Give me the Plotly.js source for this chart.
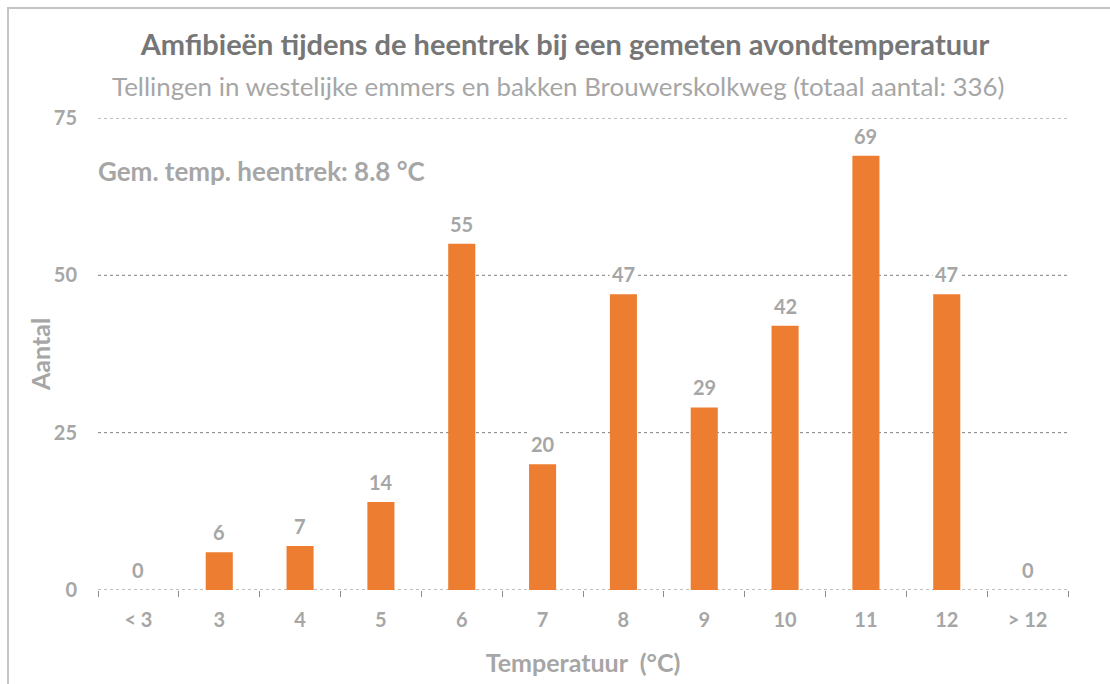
<!DOCTYPE html>
<html>
<head>
<meta charset="utf-8">
<script src="https://cdn.plot.ly/plotly-3.0.1.min.js"></script>
<style>
html,body{margin:0;padding:0;background:#fff;}
#chart{position:absolute;left:0;top:0;width:1110px;height:684px;}
#frame{position:absolute;left:7px;top:7px;width:1110px;height:684px;border-top:2px solid #c4c4c4;border-left:2px solid #c4c4c4;pointer-events:none;}
</style>
</head>
<body>
<div id="chart"></div>
<div id="frame"></div>
<script>
var categories = ["< 3", "3", "4", "5", "6", "7", "8", "9", "10", "11", "12", "> 12"];
var counts = [0, 6, 7, 14, 55, 20, 47, 29, 42, 69, 47, 0];
var yTicks = [0, 25, 50, 75];

var grey = "#a6a6a6";
var font = "Lato, 'Open Sans', sans-serif";

var trace = {
  type: "bar",
  x: categories,
  y: counts,
  marker: {color: "#ed7d31"},
  hoverinfo: "x+y"
};

var annotations = categories.map(function (c, i) {
  return {
    x: i, y: counts[i], xref: "x", yref: "y",
    text: String(counts[i]),
    showarrow: false,
    yanchor: "bottom", yshift: 5,
    bgcolor: "#ffffff",
    borderpad: 2,
    font: {family: font, size: 20, color: grey, weight: "bold"}
  };
});

annotations.push({
  xref: "paper", yref: "paper", x: -0.002, y: 0.887,
  xanchor: "left", yanchor: "middle",
  text: "Gem. temp. heentrek: 8.8 °C",
  showarrow: false,
  font: {family: font, size: 26, color: grey, weight: "bold"}
});

annotations.push({
  xref: "paper", yref: "paper", x: 0.474, y: 1.068,
  xanchor: "center", yanchor: "middle",
  text: "Tellingen in westelijke emmers en bakken Brouwerskolkweg (totaal aantal: 336)",
  showarrow: false,
  font: {family: font, size: 25.9, color: grey}
});

annotations.push({
  xref: "paper", yref: "paper", x: -0.0598, y: 0.5,
  xanchor: "center", yanchor: "middle",
  textangle: -90,
  text: "Aantal",
  showarrow: false,
  font: {family: font, size: 25, color: grey, weight: "bold"}
});

var shapes = yTicks.map(function (v) {
  return {
    type: "line", xref: "paper", yref: "y",
    x0: 0, x1: 1, y0: v, y1: v,
    layer: "below",
    line: {color: "#7f7f7f", width: 1, dash: "dot"}
  };
});

var layout = {
  width: 1110, height: 684,
  margin: {l: 98, r: 42, t: 118, b: 94},
  paper_bgcolor: "#ffffff",
  plot_bgcolor: "rgba(0,0,0,0)",
  showlegend: false,
  bargap: 0.665,
  title: {
    text: "Amfibieën tijdens de heentrek bij een gemeten avondtemperatuur",
    xref: "container", x: 0.509, xanchor: "center", y: 0.935, yanchor: "middle",
    font: {family: font, size: 29, color: "#767676", weight: "bold"}
  },
  xaxis: {
    type: "category",
    tickson: "boundaries",
    ticks: "outside", ticklen: 6, tickcolor: "#8c8c8c", tickwidth: 1,
    showgrid: false, showline: false, zeroline: false,
    ticklabelstandoff: 16,
    tickfont: {family: font, size: 20, color: grey, weight: "bold"},
    title: {text: "Temperatuur  (°C)", standoff: 24,
      font: {family: font, size: 25, color: grey, weight: "bold"}}
  },
  yaxis: {
    range: [0, 75],
    tickvals: yTicks,
    ticktext: yTicks.map(String),
    showgrid: false,
    zeroline: false, showline: false,
    ticks: "", ticklabelstandoff: 20,
    tickfont: {family: font, size: 20, color: grey, weight: "bold"}
  },
  shapes: shapes,
  annotations: annotations
};

Plotly.newPlot("chart", [trace], layout, {displayModeBar: false, staticPlot: true});
</script>
</body>
</html>
